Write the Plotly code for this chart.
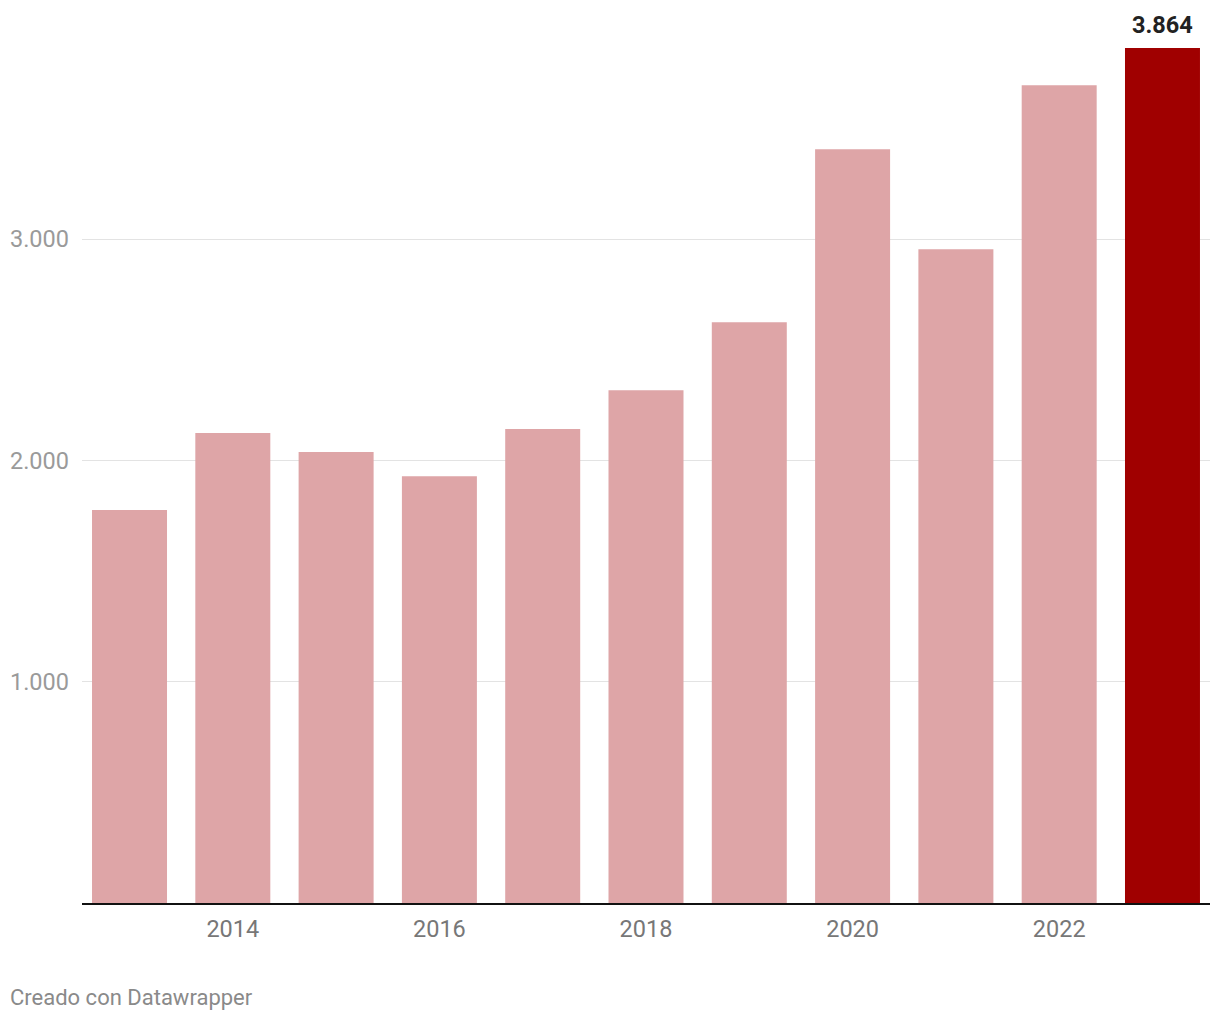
import plotly.graph_objects as go

years = [2013, 2014, 2015, 2016, 2017, 2018, 2019, 2020, 2021, 2022, 2023]
values = [1776, 2124, 2038, 1929, 2142, 2318, 2625, 3407, 2955, 3696, 3864]
light_color = "#dea5a7"
dark_color = "#a00000"
colors = [light_color] * (len(years) - 1) + [dark_color]

y_ticks = [1000, 2000, 3000]
y_tick_labels = ["1.000", "2.000", "3.000"]
x_ticks = [2014, 2016, 2018, 2020, 2022]

fig = go.Figure()
fig.add_trace(go.Bar(
    x=years, y=values, marker_color=colors, width=0.726,
    marker_line_width=0, hoverinfo="x+y"
))

fig.add_annotation(
    x=years[-1], y=values[-1], text="<b>3.864</b>", showarrow=False,
    yanchor="bottom", yshift=7,
    font=dict(family="Roboto", size=23.5, color="#222222")
)
fig.add_annotation(
    xref="paper", yref="paper", x=0, y=0, xanchor="left", yanchor="middle",
    xshift=-74, yshift=-94,
    text="Creado con Datawrapper", showarrow=False,
    font=dict(family="Roboto", size=22, color="#8a8a8a")
)

fig.update_layout(
    width=1212, height=1012,
    margin=dict(l=74, r=10, t=10, b=117, pad=0, autoexpand=False),
    plot_bgcolor="white", paper_bgcolor="white",
    showlegend=False,
    font=dict(family="Roboto"),
    xaxis=dict(
        range=[2012.54, 2023.46], tickvals=x_ticks, ticktext=[str(t) for t in x_ticks],
        showgrid=False, zeroline=False, showline=True, linecolor="#111111", linewidth=2,
        ticks="", ticklen=0, ticklabelstandoff=4, automargin=False,
        tickfont=dict(family="Roboto", size=23.5, color="#777777"),
        fixedrange=True,
    ),
    yaxis=dict(
        range=[0, 4000], tickvals=y_ticks, ticktext=y_tick_labels,
        showgrid=True, gridcolor="#e3e3e3", gridwidth=1, zeroline=False,
        showline=False, ticks="", ticklabelstandoff=12, automargin=False,
        tickfont=dict(family="Roboto", size=23.5, color="#9a9a9a"),
        fixedrange=True,
    ),
)

fig.write_html("out.html")
